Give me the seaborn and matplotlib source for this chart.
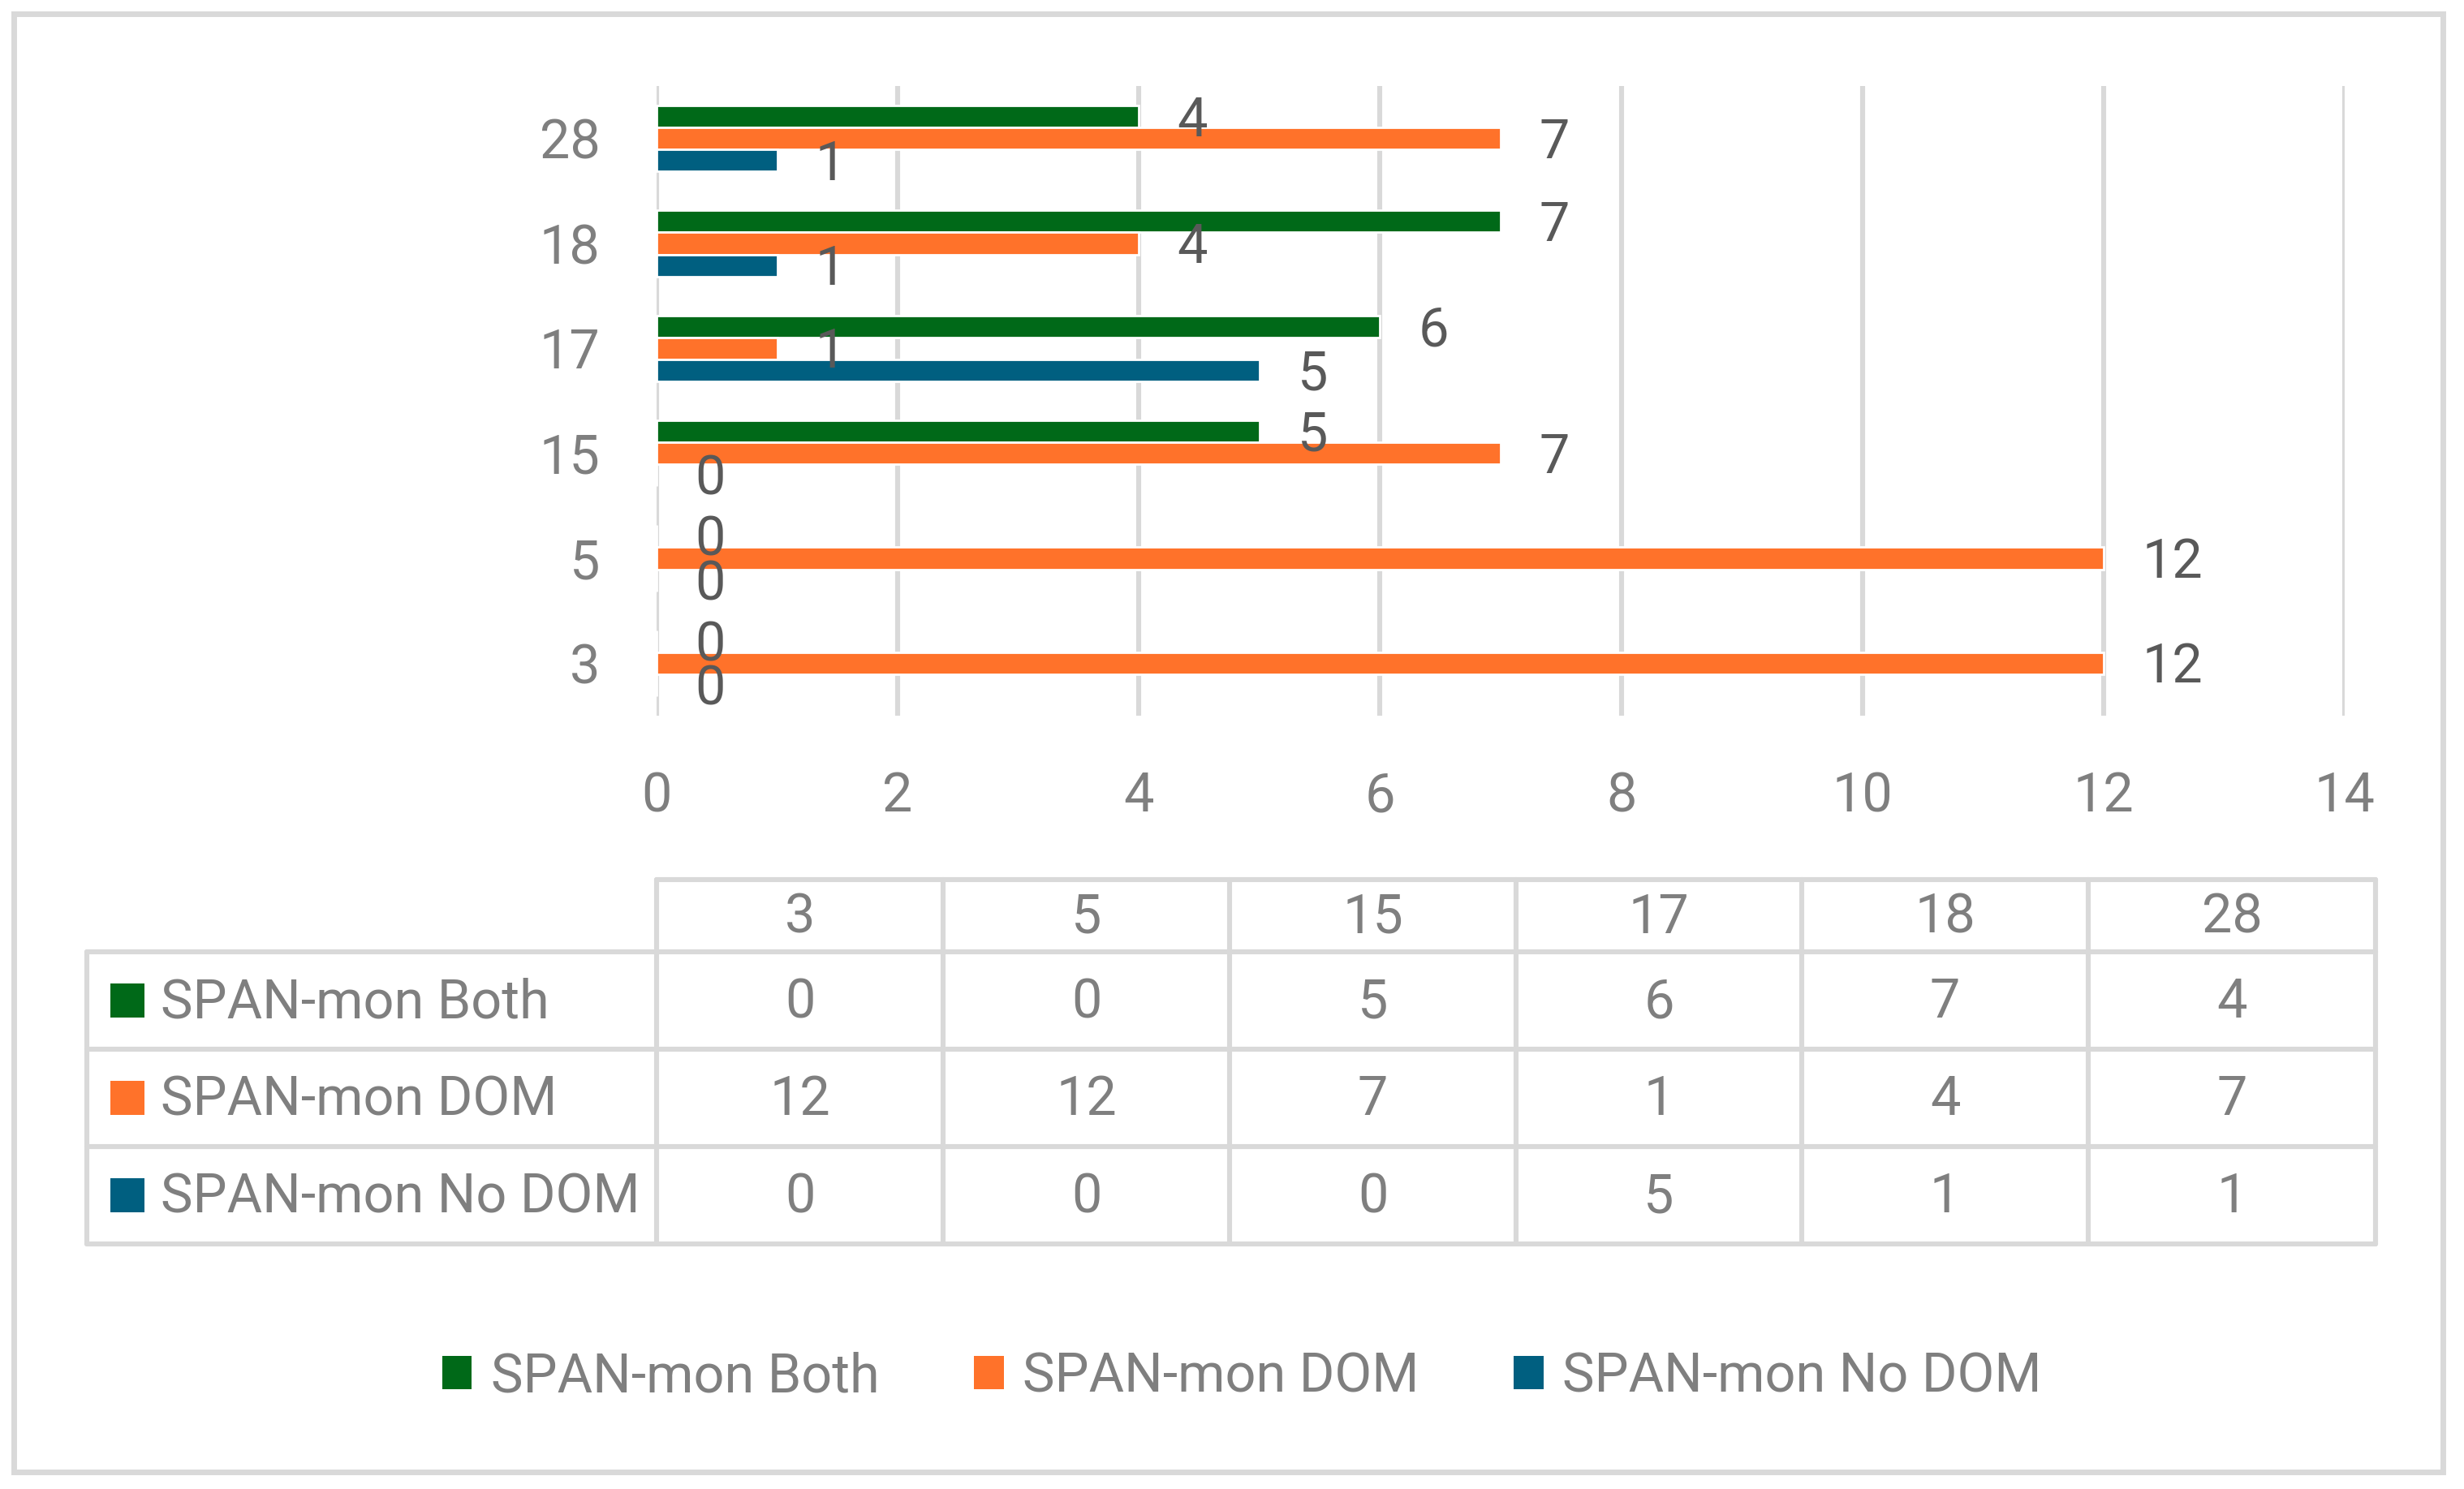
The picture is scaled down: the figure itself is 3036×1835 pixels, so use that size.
import matplotlib
matplotlib.use('Agg')
import matplotlib.pyplot as plt
import seaborn as sns
import pandas as pd
from matplotlib.lines import Line2D
from matplotlib.patches import Rectangle, Patch

# ---------------- data ----------------
categories = ['3', '5', '15', '17', '18', '28']
series_names = ['SPAN-mon Both', 'SPAN-mon DOM', 'SPAN-mon No DOM']
both_values = [0, 0, 5, 6, 7, 4]
dom_values = [12, 12, 7, 1, 4, 7]
nodom_values = [0, 0, 0, 5, 1, 1]
x_ticks = [0, 2, 4, 6, 8, 10, 12, 14]

# ---------------- style ----------------
colors = ['#006918', '#FF722A', '#005F80']
grid_color = '#D9D9D9'
label_color = '#595959'
text_color = '#7F7F7F'
FS = 24

W, H = 3036, 1835
DPI = 200
sns.set_theme(style='white')
plt.rcParams['font.family'] = ['Roboto', 'DejaVu Sans']

fig = plt.figure(figsize=(W / DPI, H / DPI), dpi=DPI)
fig.patch.set_facecolor('white')


def fx(px):
    return px / W


def fy(py):
    return 1 - py / H


ax = fig.add_axes([fx(809), fy(882), fx(2889) - fx(809), fy(106) - fy(882)])

df = pd.DataFrame({
    'cat': categories * 3,
    'series': [s for s in series_names for _ in categories],
    'value': both_values + dom_values + nodom_values,
})

sns.barplot(data=df, y='cat', x='value', hue='series',
            order=categories[::-1], hue_order=series_names,
            palette=colors, orient='h', width=0.63, gap=0,
            saturation=1, errorbar=None, legend=False, ax=ax)

for cont in ax.containers:
    texts = ax.bar_label(cont, fmt='%d', padding=17, fontsize=FS, color=label_color)
    for t in texts:
        t.xyann = (t.xyann[0], t.xyann[1] - 2.2)

ax.set_xlim(0, 14)
ax.set_xticks(x_ticks)
ax.set_xlabel('')
ax.set_ylabel('')
ax.xaxis.grid(True, color=grid_color, lw=2.2)
ax.yaxis.grid(False)
ax.set_axisbelow(True)
for sp in ax.spines.values():
    sp.set_visible(False)
ax.tick_params(axis='both', length=0, labelsize=FS, labelcolor=text_color)
ax.tick_params(axis='y', pad=25)
ax.tick_params(axis='x', pad=24.5)

# ---------------- data table ----------------
tab = fig.add_axes([0, 0, 1, 1], facecolor='none')
tab.set_xlim(0, W)
tab.set_ylim(H, 0)
tab.axis('off')

col_x = [809, 1162, 1515, 1868, 2220, 2573, 2927]
row_y = [1084, 1173, 1293, 1413, 1533]
left_x = 107
lw = 2.2
txt_dy = 3

tab.add_line(Line2D([col_x[0], col_x[-1]], [row_y[0], row_y[0]], color=grid_color, lw=lw))
for y in row_y[1:]:
    tab.add_line(Line2D([left_x, col_x[-1]], [y, y], color=grid_color, lw=lw))
tab.add_line(Line2D([left_x, left_x], [row_y[1], row_y[-1]], color=grid_color, lw=lw))
for x in col_x:
    tab.add_line(Line2D([x, x], [row_y[0], row_y[-1]], color=grid_color, lw=lw))

for i, c in enumerate(categories):
    cx = (col_x[i] + col_x[i + 1]) / 2
    tab.text(cx, (row_y[0] + row_y[1]) / 2 + txt_dy, c, ha='center', va='center',
             fontsize=FS, color=text_color)

series_values = [both_values, dom_values, nodom_values]
for r, (name, vals, col) in enumerate(zip(series_names, series_values, colors)):
    cy = (row_y[r + 1] + row_y[r + 2]) / 2
    tab.add_patch(Rectangle((136, cy - 21), 42, 42, facecolor=col, edgecolor='none'))
    tab.text(198, cy + txt_dy, name, ha='left', va='center', fontsize=FS, color=text_color)
    for i, v in enumerate(vals):
        cx = (col_x[i] + col_x[i + 1]) / 2
        tab.text(cx, cy + txt_dy, str(v), ha='center', va='center', fontsize=FS, color=text_color)

# outer border
tab.add_patch(Rectangle((17, 17), 2993, 1797, fill=False, edgecolor=grid_color, lw=2.5))

# ---------------- legend ----------------
handles = [Patch(facecolor=c, edgecolor='none', label=s) for s, c in zip(series_names, colors)]
fig.legend(handles=handles, loc='center', bbox_to_anchor=(fx(1530), fy(1697)),
           ncol=3, frameon=False, fontsize=FS, handlelength=0.55, handleheight=0.55,
           handletextpad=0.35, columnspacing=1.75, labelcolor=text_color)

fig.savefig('out.png', dpi=DPI, facecolor='white')
